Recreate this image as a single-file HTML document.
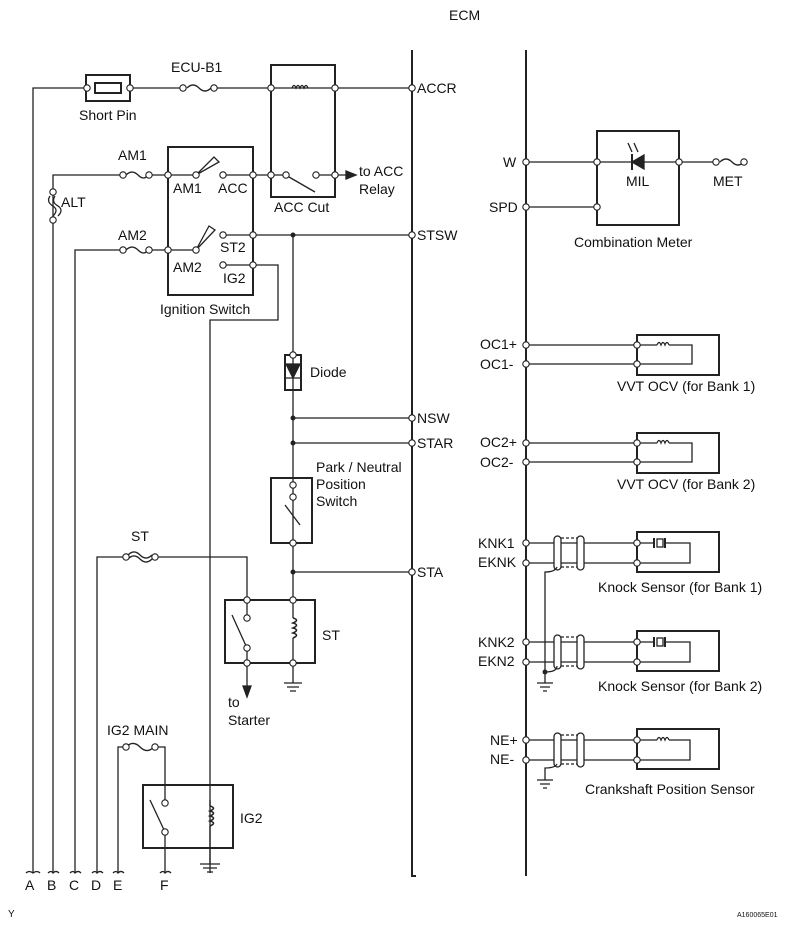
<!DOCTYPE html>
<html><head><style>
html,body{margin:0;padding:0;background:#fff;}
svg{display:block;}
text{font-family:"Liberation Sans",sans-serif;font-size:14px;fill:#111;}
</style></head><body>
<svg width="788" height="928" viewBox="0 0 788 928" xmlns="http://www.w3.org/2000/svg">
<defs>
<g id="o"><circle r="3.2" fill="#fff" stroke="#222" stroke-width="1.1"/></g>
</defs>
<g stroke="#222" stroke-width="1.3" fill="none">
<path d="M412 50 V876 H416 M526 50 V876" stroke-width="2"/>
<path d="M33 873 V88 H87 M130 88 H183 M214 88 H412"/>
<rect x="86" y="75" width="44" height="26" stroke-width="2"/>
<rect x="95" y="83" width="26" height="10" stroke-width="2"/>
<path d="M187 88 q6 -6 12 0 t12 0"/>
<rect x="271" y="65" width="64" height="132" stroke-width="2"/>
<path d="M292 88 q2 -5 4 0 q2 -5 4 0 q2 -5 4 0 q2 -5 4 0"/>
<path d="M53 873 V175 H123 M149 175 H196 M223 175 H286 M316 175 H346"/>
<path d="M126 175 q6 -6 12 0 t10 0"/>
<path d="M346 171 L356 175 L346 179 Z" fill="#222"/>
<path d="M289 177 L315 192"/>
<path d="M50 196 q-4 6 3 10 q6 4 0 10 M55 196 q-4 6 3 10 q6 4 0 10"/>
<rect x="168" y="147" width="85" height="148" stroke-width="2"/>
<path d="M196 175 L214 157 L219 162 Z" fill="#fff"/>
<path d="M75 873 V250 H123 M149 250 H196"/>
<path d="M126 250 q6 -6 12 0 t10 0"/>
<path d="M196 250 L209 226 L215 230 Z" fill="#fff"/>
<path d="M223 235 H412 M223 265 H278 V320 H210 V873"/>
<path d="M293 235 V576 M293 572 H412 M293 418 H412 M293 443 H412 M293 576 V600"/>
<rect x="285" y="355" width="16" height="35" stroke-width="2"/>
<path d="M286 364 H300 L293 378 Z M286 378 H300" fill="#222"/>
<rect x="271" y="478" width="41" height="65" stroke-width="2"/>
<path d="M285 505 L300 525"/>
<path d="M97 873 V557 H124 M155 557 H247 V618 M247 648 V688"/>
<path d="M128 555 q6 -6 12 0 t12 0 M128 559 q6 -6 12 0 t12 0"/>
<path d="M243 686 L247 697 L251 686 Z" fill="#222"/>
<rect x="225" y="600" width="90" height="63" stroke-width="2"/>
<path d="M232 615 L247 648 M293 600 V618 M293 638 V683"/>
<path d="M293 618 q7 2 0 5 q7 2 0 5 q7 2 0 5 q7 2 0 5" stroke-width="1.6"/>
<path d="M284 683 H302 M287 687 H299 M290 691 H296"/>
<path d="M118 873 V747 H126 M155 747 H165 V803 M165 832 V873"/>
<path d="M126 747 q7 -7 14 0 t14 0"/>
<rect x="143" y="785" width="90" height="63" stroke-width="2"/>
<path d="M150 800 L165 832 M210 800 V806 M210 826 V864"/>
<path d="M210 806 q7 2 0 5 q7 2 0 5 q7 2 0 5 q7 2 0 5" stroke-width="1.6"/>
<path d="M200 864 H220 M203 868 H217 M207 872 H213"/>
<path d="M26 873 q3 -3 7 0 q4 -3 7 0 M48 873 q3 -3 5 0 q3 -3 6 0 M70 873 q3 -3 5 0 q3 -3 6 0 M92 873 q3 -3 5 0 q3 -3 6 0 M113 873 q3 -3 5 0 q3 -3 6 0 M160 873 q3 -3 5 0 q3 -3 6 0"/>
<rect x="597" y="131" width="82" height="94" stroke-width="2"/>
<path d="M526 162 H632 M644 162 H716 M526 207 H597"/>
<path d="M644 155 V169 L632 162 Z" fill="#222"/>
<path d="M632 154 V170" stroke-width="2"/>
<path d="M632 152 L628 143 M638 152 L634 143"/>
<path d="M720 162 q6 -6 12 0 t12 0"/>
<path d="M526 345 H657 M669 345 H692 V364 H526 M526 443 H657 M669 443 H692 V462 H526"/>
<path d="M657 345 q2 -5 4 0 q2 -5 4 0 q2 -5 4 0"/>
<path d="M657 443 q2 -5 4 0 q2 -5 4 0 q2 -5 4 0"/>
<path d="M637 335 H719 V375 H637 Z M637 433 H719 V473 H637 Z" stroke-width="2"/>
<path d="M526 543 H654 M665 543 H690 V563 H526 M526 642 H654 M665 642 H690 V662 H526 M526 740 H657 M669 740 H690 V760 H526"/>
<path d="M654 538 V548 M665 538 V548 M654 637 V647 M665 637 V647" stroke-width="2"/>
<rect x="657" y="539" width="6" height="8"/><rect x="657" y="638" width="6" height="8"/>
<path d="M657 740 q2 -5 4 0 q2 -5 4 0 q2 -5 4 0"/>
<path d="M637 532 H719 V572 H637 Z M637 631 H719 V671 H637 Z M637 729 H719 V769 H637 Z" stroke-width="2"/>
<g fill="#fff">
<rect x="554" y="536" width="7" height="34" rx="3.5"/><rect x="577" y="536" width="7" height="34" rx="3.5"/>
<rect x="554" y="635" width="7" height="34" rx="3.5"/><rect x="577" y="635" width="7" height="34" rx="3.5"/>
<rect x="554" y="733" width="7" height="34" rx="3.5"/><rect x="577" y="733" width="7" height="34" rx="3.5"/>
</g>
<path d="M561 538 H577 M561 567 H577 M561 637 H577 M561 666 H577 M561 735 H577 M561 764 H577" stroke-dasharray="3 2"/>
<path d="M557 567 Q555 572 545 572 V672 M557 666 Q557 672 545 672 V683 M557 764 Q555 768 545 768 V780"/>
<path d="M537 683 H553 M540 687 H550 M543 691 H547 M537 780 H553 M540 784 H550 M543 788 H547"/>
</g>
<circle cx="293" cy="235" r="2.5" fill="#222"/><circle cx="293" cy="418" r="2.5" fill="#222"/><circle cx="293" cy="443" r="2.5" fill="#222"/><circle cx="293" cy="572" r="2.5" fill="#222"/><circle cx="545" cy="672" r="2.5" fill="#222"/>
<g>
<use href="#o" x="87" y="88"/><use href="#o" x="130" y="88"/><use href="#o" x="183" y="88"/><use href="#o" x="214" y="88"/><use href="#o" x="271" y="88"/><use href="#o" x="335" y="88"/><use href="#o" x="412" y="88"/>
<use href="#o" x="123" y="175"/><use href="#o" x="149" y="175"/><use href="#o" x="168" y="175"/><use href="#o" x="196" y="175"/><use href="#o" x="223" y="175"/><use href="#o" x="253" y="175"/><use href="#o" x="271" y="175"/><use href="#o" x="286" y="175"/><use href="#o" x="316" y="175"/><use href="#o" x="335" y="175"/>
<use href="#o" x="53" y="192"/><use href="#o" x="53" y="220"/>
<use href="#o" x="123" y="250"/><use href="#o" x="149" y="250"/><use href="#o" x="168" y="250"/><use href="#o" x="196" y="250"/><use href="#o" x="223" y="235"/><use href="#o" x="253" y="235"/><use href="#o" x="223" y="265"/><use href="#o" x="253" y="265"/><use href="#o" x="412" y="235"/>
<use href="#o" x="293" y="355"/><use href="#o" x="412" y="418"/><use href="#o" x="412" y="443"/>
<use href="#o" x="293" y="485"/><use href="#o" x="293" y="497"/><use href="#o" x="293" y="543"/><use href="#o" x="412" y="572"/>
<use href="#o" x="126" y="557"/><use href="#o" x="155" y="557"/>
<use href="#o" x="247" y="600"/><use href="#o" x="247" y="618"/><use href="#o" x="247" y="648"/><use href="#o" x="247" y="663"/><use href="#o" x="293" y="600"/><use href="#o" x="293" y="663"/>
<use href="#o" x="126" y="747"/><use href="#o" x="155" y="747"/><use href="#o" x="165" y="803"/><use href="#o" x="165" y="832"/>
<use href="#o" x="526" y="162"/><use href="#o" x="526" y="207"/><use href="#o" x="597" y="162"/><use href="#o" x="597" y="207"/><use href="#o" x="679" y="162"/><use href="#o" x="716" y="162"/><use href="#o" x="744" y="162"/>
<use href="#o" x="526" y="345"/><use href="#o" x="526" y="364"/><use href="#o" x="637" y="345"/><use href="#o" x="637" y="364"/>
<use href="#o" x="526" y="443"/><use href="#o" x="526" y="462"/><use href="#o" x="637" y="443"/><use href="#o" x="637" y="462"/>
<use href="#o" x="526" y="543"/><use href="#o" x="526" y="563"/><use href="#o" x="637" y="543"/><use href="#o" x="637" y="563"/>
<use href="#o" x="526" y="642"/><use href="#o" x="526" y="662"/><use href="#o" x="637" y="642"/><use href="#o" x="637" y="662"/>
<use href="#o" x="526" y="740"/><use href="#o" x="526" y="760"/><use href="#o" x="637" y="740"/><use href="#o" x="637" y="760"/>
</g>
<text x="449" y="20">ECM</text>
<text x="79" y="120">Short Pin</text>
<text x="171" y="72">ECU-B1</text>
<text x="118" y="160">AM1</text>
<text x="61" y="207">ALT</text>
<text x="173" y="193">AM1</text><text x="218" y="193">ACC</text>
<text x="274" y="212">ACC Cut</text>
<text x="359" y="176">to ACC</text><text x="359" y="194">Relay</text>
<text x="118" y="240">AM2</text>
<text x="220" y="252">ST2</text><text x="173" y="272">AM2</text><text x="223" y="283">IG2</text>
<text x="160" y="314">Ignition Switch</text>
<text x="310" y="377">Diode</text>
<text x="316" y="472">Park / Neutral</text><text x="316" y="489">Position</text><text x="316" y="506">Switch</text>
<text x="131" y="541">ST</text>
<text x="322" y="640">ST</text>
<text x="228" y="707">to</text><text x="228" y="725">Starter</text>
<text x="107" y="735">IG2 MAIN</text>
<text x="240" y="823">IG2</text>
<text x="25" y="890">A</text><text x="47" y="890">B</text><text x="69" y="890">C</text><text x="91" y="890">D</text><text x="113" y="890">E</text><text x="160" y="890">F</text>
<text x="8" y="917" style="font-size:10px">Y</text>
<text x="737" y="917" style="font-size:7px">A160065E01</text>
<text x="417" y="93">ACCR</text><text x="417" y="240">STSW</text><text x="417" y="423">NSW</text><text x="417" y="448">STAR</text><text x="417" y="577">STA</text>
<text x="503" y="167">W</text><text x="489" y="212">SPD</text>
<text x="626" y="186">MIL</text><text x="713" y="186">MET</text>
<text x="574" y="247">Combination Meter</text>
<text x="480" y="349">OC1+</text><text x="480" y="369">OC1-</text>
<text x="617" y="391">VVT OCV (for Bank 1)</text>
<text x="480" y="447">OC2+</text><text x="480" y="467">OC2-</text>
<text x="617" y="489">VVT OCV (for Bank 2)</text>
<text x="478" y="548">KNK1</text><text x="478" y="567">EKNK</text>
<text x="598" y="592">Knock Sensor (for Bank 1)</text>
<text x="478" y="647">KNK2</text><text x="478" y="666">EKN2</text>
<text x="598" y="691">Knock Sensor (for Bank 2)</text>
<text x="490" y="745">NE+</text><text x="490" y="764">NE-</text>
<text x="585" y="794">Crankshaft Position Sensor</text>
</svg>
</body></html>
